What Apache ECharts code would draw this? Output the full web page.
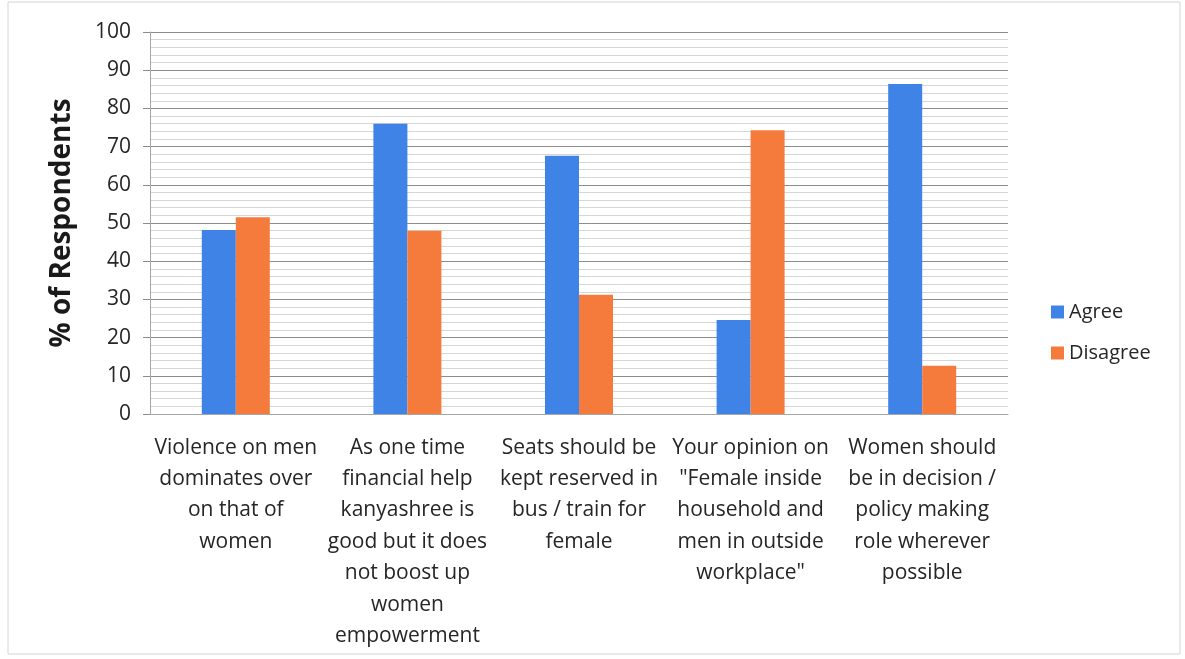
<!DOCTYPE html>
<html>
<head>
<meta charset="utf-8">
<script src="https://cdn.jsdelivr.net/npm/echarts@6/dist/echarts.min.js"></script>
<style>
html,body{margin:0;padding:0;background:#fff;}
#c{width:1185px;height:659px;}
</style>
</head>
<body>
<div id="c"></div>
<script>
const categories = [
  "Violence on men\ndominates over\non that of\nwomen",
  "As one time\nfinancial help\nkanyashree is\ngood but it does\nnot boost up\nwomen\nempowerment",
  "Seats should be\nkept reserved in\nbus / train for\nfemale",
  "Your opinion on\n\"Female inside\nhousehold and\nmen in outside\nworkplace\"",
  "Women should\nbe in decision /\npolicy making\nrole wherever\npossible"
];
const agree = [48.2, 76, 67.6, 24.6, 86.4];
const disagree = [51.5, 48, 31.2, 74.3, 12.6];
const seriesNames = ["Agree", "Disagree"];

const FONT = "'Open Sans', Lato, sans-serif";
const chart = echarts.init(document.getElementById('c'));
chart.setOption({
  backgroundColor: '#ffffff',
  animation: false,
  textStyle: {fontFamily: FONT},
  color: ['#3F83E6', '#F57B3C'],
  graphic: [{
    type: 'rect', shape: {x: 8, y: 2, width: 1172, height: 652},
    style: {fill: 'none', stroke: '#d4d4d4', lineWidth: 1}, silent: true
  }],
  grid: {left: 150, right: 177, top: 32, bottom: 245, containLabel: false},
  legend: {
    orient: 'vertical', left: 1046, top: 297, itemGap: 21,
    itemWidth: 13, itemHeight: 13, icon: 'rect',
    textStyle: {fontFamily: FONT, fontSize: 20, color: '#262626'},
    data: seriesNames
  },
  xAxis: {
    type: 'category', data: categories,
    axisLine: {show: true, lineStyle: {color: '#a6a6a6', width: 1}},
    axisTick: {show: false},
    axisLabel: {interval: 0, margin: 18, fontFamily: FONT, fontSize: 21, color: '#262626', lineHeight: 31.4, align: 'center'}
  },
  yAxis: {
    type: 'value', min: 0, max: 100, interval: 10,
    name: '% of Respondents', nameLocation: 'middle', nameGap: 74,
    nameTextStyle: {fontFamily: FONT, fontSize: 28, fontWeight: 'bold', color: '#1a1a1a'},
    axisLine: {show: true, lineStyle: {color: '#a6a6a6'}},
    axisTick: {show: true, length: 7, lineStyle: {color: '#8c8c8c'}},
    axisLabel: {margin: 19, fontFamily: FONT, fontSize: 21, color: '#262626'},
    splitLine: {show: true, lineStyle: {color: '#8c8c8c', width: 1}},
    minorTick: {show: false, splitNumber: 5},
    minorSplitLine: {show: true, lineStyle: {color: '#d6d6d6', width: 1}}
  },
  series: [
    {name: seriesNames[0], type: 'bar', data: agree, barWidth: 34, barGap: '0%'},
    {name: seriesNames[1], type: 'bar', data: disagree, barWidth: 34, barGap: '0%'}
  ]
});
</script>
</body>
</html>
